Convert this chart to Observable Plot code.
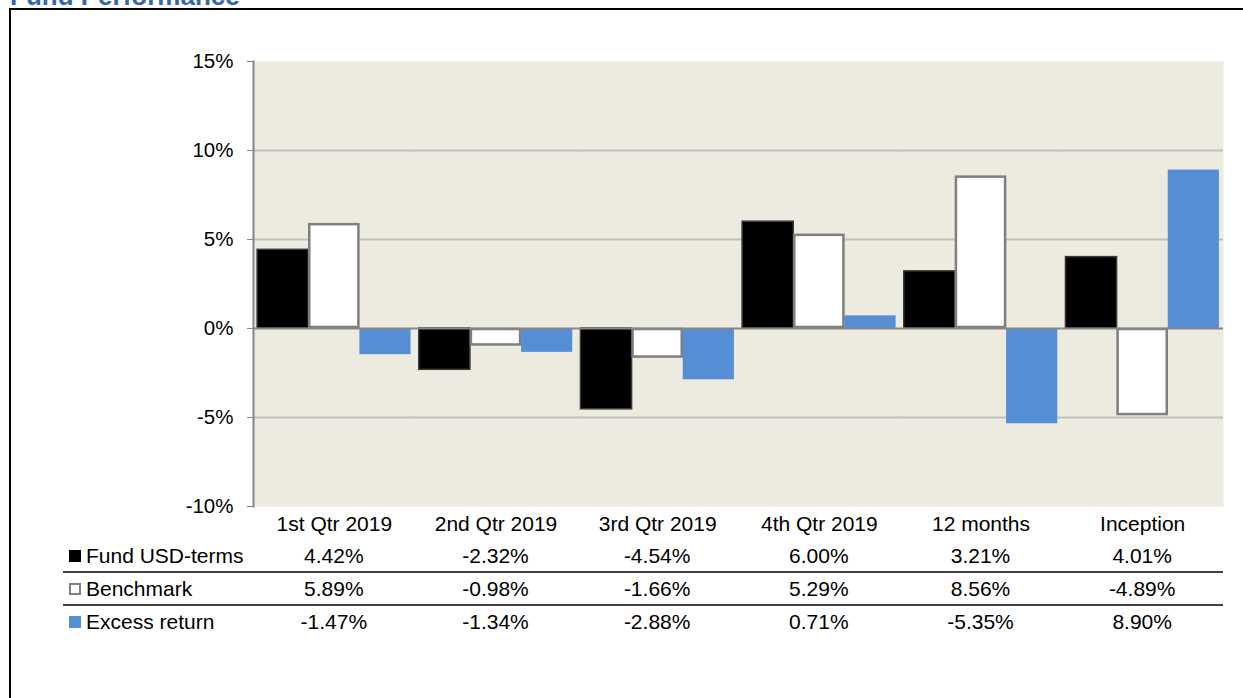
<!DOCTYPE html>
<html>
<head>
<meta charset="utf-8">
<script src="https://cdn.jsdelivr.net/npm/d3@7"></script>
<script src="https://cdn.jsdelivr.net/npm/@observablehq/plot@0.6"></script>
<style>
  html, body { margin: 0; padding: 0; background: #fff; }
  #wrap { position: relative; width: 1243px; height: 698px; overflow: hidden; font-family: "Liberation Sans", Arial, sans-serif; }
  #border { position: absolute; left: 9px; top: 8px; width: 2000px; height: 2000px; border-left: 2px solid #000; border-top: 2px solid #000; }
  #title { position: absolute; left: 10px; top: -17px; font-size: 26px; line-height: 26px; font-weight: bold; color: #3A65A9; white-space: nowrap; }
  #chart { position: absolute; left: 0; top: 0; }
  #table { position: absolute; left: 0; top: 540px; width: 1243px; }
  .row { position: absolute; left: 63px; height: 31px; border-bottom: 2px solid #404040; }
  .row.last { border-bottom: none; }
  .cell { position: absolute; top: 0; height: 31px; line-height: 31px; font-size: 21px; color: #000; white-space: nowrap; }
  .lab { position: absolute; top: 0; left: 23px; height: 31px; line-height: 31px; font-size: 21px; white-space: nowrap; }
  .sw { position: absolute; left: 6px; top: 10px; width: 12px; height: 12px; box-sizing: border-box; }
</style>
</head>
<body>
<div id="wrap">
  <div id="border"></div>
  <div id="title">Fund Performance</div>
  <div id="chart"></div>
  <div id="table"></div>
</div>
<script>
const categories = ["1st Qtr 2019", "2nd Qtr 2019", "3rd Qtr 2019", "4th Qtr 2019", "12 months", "Inception"];
const seriesNames = ["Fund USD-terms", "Benchmark", "Excess return"];
const fund = [4.42, -2.32, -4.54, 6.00, 3.21, 4.01];
const benchmark = [5.89, -0.98, -1.66, 5.29, 8.56, -4.89];
const excess = [-1.47, -1.34, -2.88, 0.71, -5.35, 8.90];
const yTicks = [15, 10, 5, 0, -5, -10];
const gridValues = [10, 5, -5];

const seriesValues = [fund, benchmark, excess];
const data = [];
seriesNames.forEach((s, si) => categories.forEach((c, ci) => data.push({cat: c, series: s, value: seriesValues[si][ci]})));

const barStyle = [
  {fill: "#000000", stroke: "#3a3a3a", strokeWidth: 1.5},
  {fill: "#ffffff", stroke: "#7f7f7f", strokeWidth: 2.5, inset: 1},
  {fill: "#558ED5", stroke: "none"}
];
const swatchCss = [
  "background:#000;",
  "background:#fff;border:2px solid #7f7f7f;",
  "background:#558ED5;"
];

const W = 1243, H = 540;
const plot = Plot.plot({
  width: W, height: H,
  marginLeft: 253, marginRight: 20, marginTop: 61, marginBottom: 34,
  style: {fontFamily: "'Liberation Sans', Arial, sans-serif", fontSize: "20px", color: "#000", background: "transparent", overflow: "visible"},
  fx: {domain: categories, padding: 0, round: false, label: null},
  x: {domain: seriesNames, paddingInner: 0, paddingOuter: 0.08, round: false, axis: null},
  y: {domain: [-10, 15], label: null},
  marks: [
    Plot.frame({fill: "#EDEADF", stroke: "none", facet: "super"}),
    Plot.ruleY(gridValues, {stroke: "#C0C0C0", strokeWidth: 2}),
    ...seriesNames.map((s, i) => Plot.barY(data.filter(d => d.series === s), {fx: "cat", x: "series", y: "value", ...barStyle[i]})),
    Plot.ruleY([0], {stroke: "#868686", strokeWidth: 2}),
    Plot.frame({anchor: "left", stroke: "#868686", strokeWidth: 2, facet: "super"}),
    Plot.axisY(yTicks, {tickSize: 6, tickPadding: 14, tickFormat: d => d + "%", stroke: "#868686", fill: "#000", fontSize: 20.5, label: null}),
    Plot.axisFx({anchor: "bottom", tickSize: 0, tickPadding: 10, fontSize: 21, fill: "#000", label: null})
  ]
});
document.getElementById("chart").appendChild(plot);

// table of values, columns aligned to the fx scale
const fx = plot.scale("fx");
const bw = fx.bandwidth;
const table = document.getElementById("table");
const tableLeft = 63, tableRight = W - 20;
seriesNames.forEach((s, si) => {
  const row = document.createElement("div");
  row.className = "row" + (si === seriesNames.length - 1 ? " last" : "");
  row.style.top = (si * 33) + "px";
  row.style.width = (tableRight - tableLeft) + "px";
  const sw = document.createElement("div");
  sw.className = "sw";
  sw.style.cssText = swatchCss[si];
  row.appendChild(sw);
  const lab = document.createElement("div");
  lab.className = "lab";
  lab.textContent = s;
  row.appendChild(lab);
  categories.forEach((c, ci) => {
    const cell = document.createElement("div");
    cell.className = "cell";
    const x0 = fx.apply(c) - tableLeft;
    cell.style.left = x0 + "px";
    cell.style.width = bw + "px";
    cell.style.textAlign = "center";
    cell.textContent = seriesValues[si][ci].toFixed(2) + "%";
    row.appendChild(cell);
  });
  table.appendChild(row);
});
</script>
</body>
</html>
